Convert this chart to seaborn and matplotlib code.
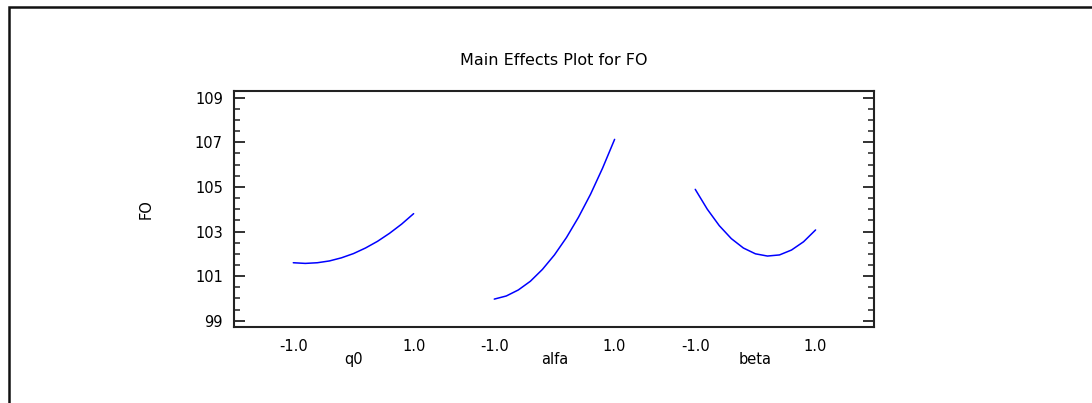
import matplotlib
matplotlib.use("Agg")
import matplotlib.pyplot as plt
from matplotlib.ticker import MultipleLocator, FixedLocator
from matplotlib.lines import Line2D
import seaborn as sns
import pandas as pd

# ---- data ----
factors = ["q0", "alfa", "beta"]
levels = [-1.0, -0.8, -0.6, -0.4, -0.2, 0.0, 0.2, 0.4, 0.6, 0.8, 1.0]
fo_q0 = [101.60, 101.57, 101.60, 101.68, 101.82, 102.01, 102.26, 102.56, 102.92, 103.33, 103.80]
fo_alfa = [99.97, 100.11, 100.38, 100.77, 101.30, 101.95, 102.73, 103.64, 104.67, 105.84, 107.13]
fo_beta = [104.89, 104.00, 103.26, 102.68, 102.26, 102.00, 101.90, 101.95, 102.17, 102.54, 103.07]
x_tick_labels = ["-1.0", "1.0"]
y_ticks = [99, 101, 103, 105, 107, 109]
title = "Main Effects Plot for FO"
y_label = "FO"

# layout: horizontal centre of each factor's panel on the shared axis
centers = [0.0, 3.34, 6.68]

series = {"q0": fo_q0, "alfa": fo_alfa, "beta": fo_beta}
rows = []
for f, c in zip(factors, centers):
    for lv, v in zip(levels, series[f]):
        rows.append({"factor": f, "level": lv, "pos": lv + c, "FO": v})
df = pd.DataFrame(rows)

sns.set_theme(style="white")
plt.rcParams["font.family"] = ["DejaVu Sans"]

fig = plt.figure(figsize=(10.92, 4.03), dpi=100)
fig.patch.set_facecolor("white")
ax = fig.add_axes([0.2143, 0.1886, 0.5863, 0.5863])
ax.set_facecolor("white")

for f in factors:
    sub = df[df["factor"] == f]
    sns.lineplot(data=sub, x="pos", y="FO", ax=ax, color="#0000ff",
                 linewidth=1.1, estimator=None, sort=True, legend=False)

ax.set_xlim(-1.985, 8.655)
ax.set_ylim(98.72, 109.31)

# y axis ticks
ax.yaxis.set_major_locator(FixedLocator(y_ticks))
ax.set_yticklabels([str(t) for t in y_ticks])
ax.yaxis.set_minor_locator(MultipleLocator(0.5))
ax.tick_params(axis="y", which="major", direction="in", length=8, width=1.3,
               left=True, right=True, labelsize=10.5, pad=8, color="#222222",
               labelcolor="black")
ax.tick_params(axis="y", which="minor", direction="in", length=4, width=1.1,
               left=True, right=True, color="#222222")

# x axis ticks
xt, xl = [], []
for c in centers:
    xt += [c - 1.0, c + 1.0]
    xl += x_tick_labels
ax.set_xticks(xt)
ax.set_xticklabels(xl)
ax.tick_params(axis="x", which="both", length=0, labelsize=10.5, pad=9,
               labelcolor="black")

for f, c in zip(factors, centers):
    ax.text(c, -0.137, f, transform=ax.get_xaxis_transform(), ha="center",
            va="center", fontsize=10.5, color="black")

for s in ax.spines.values():
    s.set_visible(True)
    s.set_color("#222222")
    s.set_linewidth(1.5)

ax.set_xlabel("")
ax.set_ylabel(y_label, fontsize=10.5, color="black")
ax.yaxis.set_label_coords(-0.125, 0.5)

ax.text(0.5, 1.129, title, transform=ax.transAxes, ha="center", va="center",
        fontsize=11.5, color="black")

# outer frame (top and left edges visible in the reference)
xl_f = 9.3 / 1092
yt_f = 1 - 7.3 / 403
fig.add_artist(Line2D([xl_f, xl_f, 1.0], [0.0, yt_f, yt_f], transform=fig.transFigure,
                      color="#111111", linewidth=1.8, solid_joinstyle="miter"))

fig.savefig("out.png", dpi=100, facecolor="white")
